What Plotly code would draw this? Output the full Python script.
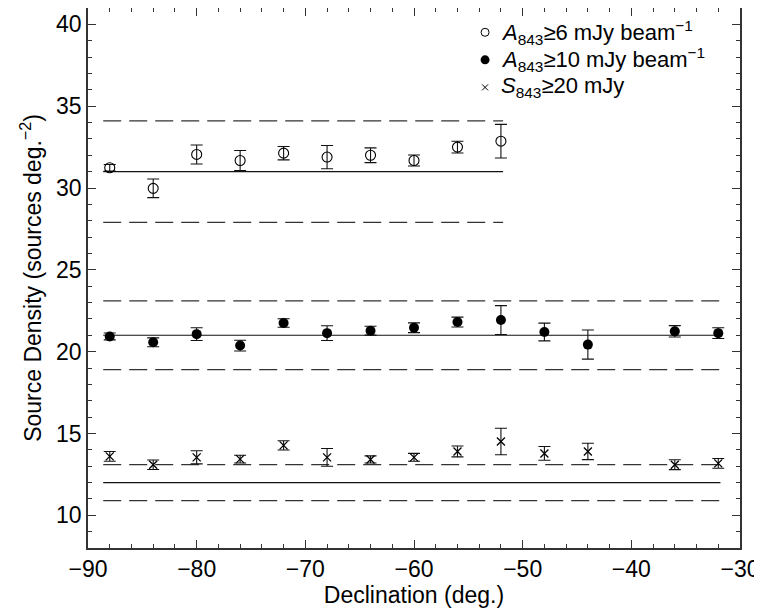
import plotly.graph_objects as go

# Declination bins (deg.)
dec_open = [-88, -84, -80, -76, -72, -68, -64, -60, -56, -52]
dens_open = [31.24, 29.98, 32.05, 31.68, 32.13, 31.89, 32.0, 31.68, 32.5, 32.86]
err_open = [0.2, 0.57, 0.58, 0.61, 0.41, 0.71, 0.45, 0.34, 0.36, 1.03]

dec_full = [-88, -84, -80, -76, -72, -68, -64, -60, -56, -52, -48, -44, -36, -32]
dens_filled = [20.93, 20.57, 21.07, 20.37, 21.75, 21.13, 21.28, 21.46, 21.81, 21.93, 21.2, 20.43, 21.24, 21.13]
err_filled = [0.21, 0.27, 0.39, 0.33, 0.26, 0.45, 0.27, 0.3, 0.3, 0.88, 0.54, 0.89, 0.35, 0.33]

dens_cross = [13.6, 13.09, 13.54, 13.43, 14.27, 13.54, 13.41, 13.54, 13.9, 14.51, 13.78, 13.9, 13.09, 13.17]
err_cross = [0.3, 0.29, 0.4, 0.24, 0.28, 0.54, 0.22, 0.24, 0.33, 0.81, 0.42, 0.5, 0.3, 0.3]

# Reference lines: [mean, lower, upper]
open_lines = [31.0, 27.9, 34.1]
filled_lines = [21.0, 18.9, 23.1]
cross_lines = [12.0, 10.9, 13.1]
open_span = [-88.6, -51.8]
full_span = [-88.6, -31.8]

labels = [
    "<i>A</i><sub>843</sub>≥6 mJy beam<sup>−1</sup>",
    "<i>A</i><sub>843</sub>≥10 mJy beam<sup>−1</sup>",
    "<i>S</i><sub>843</sub>≥20 mJy",
]

FONT = "Liberation Sans, Arial, Helvetica"

fig = go.Figure()

def add_lines(span, vals):
    fig.add_trace(go.Scatter(x=span, y=[vals[0], vals[0]], mode="lines",
                             line=dict(color="#111", width=1.2), showlegend=False, hoverinfo="skip"))
    for v in vals[1:]:
        fig.add_trace(go.Scatter(x=span, y=[v, v], mode="lines",
                                 line=dict(color="#333", width=1.2, dash="18px,8px"),
                                 showlegend=False, hoverinfo="skip"))

add_lines(open_span, open_lines)
add_lines(full_span, filled_lines)
add_lines(full_span, cross_lines)

eb = dict(type="data", thickness=1.1, width=6, color="#111")

open_marker = dict(symbol="circle-open", size=10, color="black", line=dict(width=1.1))
filled_marker = dict(symbol="circle", size=10, color="black")
cross_marker = dict(symbol="x-thin", size=8, color="black", line=dict(width=1.3, color="black"))

fig.add_trace(go.Scatter(x=dec_open, y=dens_open, mode="markers", showlegend=False,
                         error_y=dict(array=err_open, **eb), marker=open_marker))
fig.add_trace(go.Scatter(x=dec_full, y=dens_filled, mode="markers", showlegend=False,
                         error_y=dict(array=err_filled, **eb), marker=filled_marker))
fig.add_trace(go.Scatter(x=dec_full, y=dens_cross, mode="markers", showlegend=False,
                         error_y=dict(array=err_cross, **eb), marker=cross_marker))

# Legend drawn on an overlay axis in [0,1] units
leg_y = [0.955, 0.904, 0.853]
leg_x = 0.609
leg_markers = [
    dict(symbol="circle-open", size=8, color="black", line=dict(width=1)),
    dict(symbol="circle", size=9, color="black"),
    dict(symbol="x-thin", size=6, color="black", line=dict(width=1, color="black")),
]
for yy, mk in zip(leg_y, leg_markers):
    fig.add_trace(go.Scatter(x=[leg_x], y=[yy], mode="markers", marker=mk, xaxis="x2", yaxis="y2",
                             showlegend=False, hoverinfo="skip"))
for yy, lab in zip(leg_y, labels):
    fig.add_annotation(x=leg_x + 0.022, y=yy, xref="x2", yref="y2", text=lab, showarrow=False,
                       xanchor="left", yanchor="middle",
                       font=dict(family=FONT, size=22, color="black"))

axis_common = dict(
    showline=True, linecolor="#333", linewidth=1.5, mirror="allticks",
    ticks="inside", ticklen=8, tickcolor="#333", tickwidth=1.2,
    showgrid=False, zeroline=False, automargin=False,
    tickfont=dict(family=FONT, size=23, color="black"),
)

fig.update_xaxes(range=[-90, -30], dtick=10, tick0=-90,
                 minor=dict(ticks="inside", ticklen=4, dtick=2, tick0=-90, tickcolor="#333", tickwidth=1),
                 title=dict(text="Declination (deg.)", font=dict(family=FONT, size=23, color="black"), standoff=4),
                 **axis_common)
fig.update_yaxes(range=[8, 41], dtick=5, tick0=0,
                 minor=dict(ticks="inside", ticklen=4, dtick=1, tick0=0, tickcolor="#333", tickwidth=1),
                 title=dict(text="Source Density (sources deg.<sup>−2</sup>)", font=dict(family=FONT, size=23, color="black"), standoff=8),
                 **axis_common)

# page body has an 8px margin, so the figure is sized to fit the 762x613 window
fig.update_layout(
    width=754, height=605,
    margin=dict(l=80, r=22, t=0, b=65),
    plot_bgcolor="white", paper_bgcolor="white",
    showlegend=False,
    xaxis2=dict(overlaying="x", range=[0, 1], visible=False, fixedrange=True),
    yaxis2=dict(overlaying="y", range=[0, 1], visible=False, fixedrange=True),
)

fig.write_html("out.html")
